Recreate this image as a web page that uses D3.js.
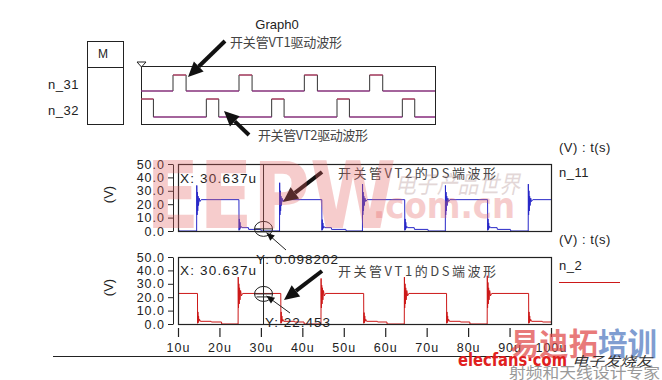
<!DOCTYPE html>
<html>
<head>
<meta charset="utf-8">
<script src="https://cdnjs.cloudflare.com/ajax/libs/d3/7.8.5/d3.min.js"></script>
<style>
  body { margin: 0; background: #fff; }
  svg text { font-family: "Liberation Sans", Arial, sans-serif; }
</style>
</head>
<body>
<div id="chart"></div>
<script>
// ---- data (time in us, volts) ----
const timeTicks = [10, 20, 30, 40, 50, 60, 70, 80, 90, 100];
const voltTicks = [0, 10, 20, 30, 40, 50];

// gate drive (digital) : [time, level]
const vt1Gate = [[10,0],[19.8,1],[23.8,0],[40,1],[44,0],[60,1],[64,0],[80,1],[84,0],[100,0]];
const vt2Gate = [[10,1],[13.8,0],[30,1],[33.8,0],[50,1],[53.8,0],[70,1],[73.8,0],[90,1],[93.8,0],[100,0]];

// n_11 : VT2 drain-source voltage
const n11 = [
  [10,0],[10.05,2.5],[10.2,0],
  [14.5,0],[14.53,34],[14.6,12],[14.68,29],[14.76,15],[14.85,26],[14.95,19],[15.1,24.5],[15.3,22],[15.6,23.4],
  [24.7,23.4],[24.73,0.5],[24.8,9],[24.88,1],[24.96,6.5],[25.05,2],[25.2,3.5],[25.4,2.5],[27.0,2.5],[27.05,1.2],[30.0,1.2],[30.1,0],
  [34.5,0],[34.53,36],[34.6,12],[34.68,30],[34.76,15],[34.85,26],[34.95,19],[35.1,24.5],[35.3,22],[35.6,23.4],
  [44.7,23.4],[44.73,0.5],[44.8,8.5],[44.88,1],[44.96,6],[45.05,2],[45.2,3.5],[45.4,2.5],[47.0,2.5],[47.05,1.2],[50.5,1.2],[50.6,0],
  [54.5,0],[54.53,35],[54.6,12],[54.68,29],[54.76,15],[54.85,26],[54.95,19],[55.1,24.5],[55.3,22],[55.6,23.4],
  [64.7,23.4],[64.73,0.5],[64.8,9],[64.88,1],[64.96,6.5],[65.05,2],[65.2,3.5],[65.4,2.5],[67.0,2.5],[67.05,1.2],[70.3,1.2],[70.4,0],
  [74.5,0],[74.53,34],[74.6,12],[74.68,29],[74.76,15],[74.85,26],[74.95,19],[75.1,24.5],[75.3,22],[75.6,23.4],
  [84.7,23.4],[84.73,0.5],[84.8,9],[84.88,1],[84.96,6],[85.05,2],[85.2,3.5],[85.4,2.5],[87.0,2.5],[87.05,1.2],[90.2,1.2],[90.3,0],
  [94.5,0],[94.53,35],[94.6,12],[94.68,30],[94.76,15],[94.85,26],[94.95,19],[95.1,24.5],[95.3,22],[95.6,23.4],
  [100,23.4]
];

// n_2 : VT1 drain-source voltage
const n2 = [
  [10,22.8],[14.7,22.8],[14.73,0.5],[14.8,9],[14.88,1],[14.96,6],[15.05,2],[15.2,3.5],[15.4,2],[18.0,2],[18.05,1.5],[20.5,1.5],[20.55,0],
  [24.5,0],[24.53,35],[24.6,12],[24.68,30],[24.76,15],[24.85,27],[24.95,18],[25.1,25],[25.3,21],[25.6,22.8],
  [34.8,22.8],[34.83,0.5],[34.9,9],[34.98,1],[35.06,6],[35.15,2],[35.3,3.5],[35.5,2],[38.1,2],[38.15,1.5],[40.4,1.5],[40.45,0],
  [44.5,0],[44.53,34],[44.6,12],[44.68,29],[44.76,15],[44.85,27],[44.95,18],[45.1,25],[45.3,21],[45.6,22.8],
  [54.8,22.8],[54.83,0.5],[54.9,8.5],[54.98,1],[55.06,6],[55.15,2],[55.3,3.5],[55.5,2],[58.1,2],[58.15,1.5],[60.4,1.5],[60.45,0],
  [64.6,0],[64.63,35],[64.7,12],[64.78,30],[64.86,15],[64.95,27],[65.05,18],[65.2,25],[65.4,21],[65.7,22.8],
  [74.8,22.8],[74.83,0.5],[74.9,9],[74.98,1],[75.06,6],[75.15,2],[75.3,3.5],[75.5,2],[78.1,2],[78.15,1.5],[80.4,1.5],[80.45,0],
  [84.6,0],[84.63,36],[84.7,12],[84.78,31],[84.86,15],[84.95,27],[85.05,18],[85.2,25],[85.4,21],[85.7,22.8],
  [94.6,22.8],[94.63,0.5],[94.7,9],[94.78,1],[94.86,6],[94.95,2],[95.1,3.5],[95.3,2],[97.9,2],[97.95,1.5],[100,1.5]
];

// cursor
const cursorT = 30.637;
const cursorN11 = 0.098202;
const cursorN2 = 22.453;

// ---- svg ----
const W = 662, H = 380;
const svg = d3.select("#chart").append("svg")
  .attr("width", W).attr("height", H);

// scales
const xA = d3.scaleLinear().domain([10, 100]).range([178, 551]);
const xD = d3.scaleLinear().domain([10, 100]).range([141, 435]);
const yMid = d3.scaleLinear().domain([0, 50]).range([231, 164]);
const yBot = d3.scaleLinear().domain([0, 50]).range([324, 257]);
const y31 = d3.scaleLinear().domain([0, 1]).range([91, 75]);
const y32 = d3.scaleLinear().domain([0, 1]).range([117, 99]);

// ---- top: digital graph ----
svg.append("text").attr("x", 277).attr("y", 29)
  .attr("text-anchor", "middle").style("font-size", "13px").attr("fill", "#222")
  .text("Graph0");

// M box
svg.append("rect").attr("x", 87.5).attr("y", 41.5).attr("width", 36).attr("height", 83)
  .attr("fill", "none").attr("stroke", "#222");
svg.append("line").attr("x1", 87.5).attr("x2", 123.5).attr("y1", 67.5).attr("y2", 67.5)
  .attr("stroke", "#222");
svg.append("text").attr("x", 103).attr("y", 58).attr("text-anchor", "middle")
  .style("font-size", "12px").attr("fill", "#222").text("M");

svg.append("text").attr("x", 48).attr("y", 89).style("font-size", "13px")
  .style("letter-spacing", "0.5px").attr("fill", "#222").text("n_31");
svg.append("text").attr("x", 48).attr("y", 115).style("font-size", "13px")
  .style("letter-spacing", "0.5px").attr("fill", "#222").text("n_32");

// frame
svg.append("rect").attr("x", 141.5).attr("y", 66.5).attr("width", 294).attr("height", 58)
  .attr("fill", "none").attr("stroke", "#222");
svg.append("line").attr("x1", 141.5).attr("x2", 141.5).attr("y1", 63).attr("y2", 125)
  .attr("stroke", "#222");
svg.append("path").attr("d", "M137,62 L146,62 L141.5,67 Z")
  .attr("fill", "#fff").attr("stroke", "#222");

function drawDigital(data, y) {
  const line = d3.line().x(d => xD(d[0])).y(d => y(d[1])).curve(d3.curveStepAfter);
  svg.append("path").datum(data).attr("d", line)
    .attr("fill", "none").attr("stroke", "#333").attr("stroke-width", 1);
  // horizontal levels in magenta
  for (let i = 0; i < data.length - 1; i++) {
    svg.append("line")
      .attr("x1", xD(data[i][0])).attr("x2", xD(data[i + 1][0]))
      .attr("y1", y(data[i][1])).attr("y2", y(data[i][1]))
      .attr("stroke", data[i][1] ? "#d04070" : "#b030a0").attr("stroke-width", 1.1);
  }
}
drawDigital(vt1Gate, y31);
drawDigital(vt2Gate, y32);

// ---- analog panels ----
function panel(y, data, color, name) {
  // y axis
  const ax = svg.append("g").attr("transform", "translate(173,0)")
    .call(d3.axisLeft(y).tickValues(voltTicks).tickFormat(d3.format(".1f"))
      .tickSize(5).tickSizeOuter(0).tickPadding(3));
  ax.selectAll("path,line").attr("stroke", "#222");
  ax.selectAll("text").style("font-size", "12.5px").style("letter-spacing", "1px")
    .style("font-family", "Liberation Sans, Arial, sans-serif").attr("fill", "#222");

  const r0 = y.range();
  const clipId = "clip-" + name;
  svg.append("clipPath").attr("id", clipId).append("rect")
    .attr("x", 178).attr("y", r0[1]).attr("width", 373).attr("height", r0[0] - r0[1]);

  const line = d3.line().x(d => xA(d[0])).y(d => y(d[1]));
  svg.append("path").datum(data).attr("d", line)
    .attr("clip-path", `url(#${clipId})`)
    .attr("fill", "none").attr("stroke", color).attr("stroke-width", 1);

  svg.append("rect").attr("x", 178.5).attr("y", r0[1] + 0.5)
    .attr("width", 373).attr("height", r0[0] - r0[1])
    .attr("fill", "none").attr("stroke", "#222").attr("stroke-width", 1.2);

  // (V) label
  const cy = (r0[0] + r0[1]) / 2 - 3;
  svg.append("text").attr("transform", `translate(113,${cy}) rotate(-90)`)
    .attr("text-anchor", "middle").style("font-size", "13px").attr("fill", "#222")
    .text("(V)");
}
panel(yMid, n11, "#2828c8", "n11");
panel(yBot, n2, "#cc1818", "n2");

// x axis under the bottom panel
const xAxis = svg.append("g").attr("transform", "translate(0,328)")
  .call(d3.axisBottom(xA).tickValues(timeTicks).tickFormat(d => d + "u")
    .tickSize(9).tickPadding(6));
xAxis.select(".domain").remove();
xAxis.selectAll("line").attr("stroke", "#222").attr("stroke-width", 1.2);
xAxis.selectAll("text").style("font-size", "12.5px").style("letter-spacing", "1px")
  .style("font-family", "Liberation Sans, Arial, sans-serif").attr("fill", "#222");

svg.append("line").attr("x1", 53).attr("x2", 512).attr("y1", 356.5).attr("y2", 356.5)
  .attr("stroke", "#222");

// legend side
[["(V) : t(s)", 152], ["n_11", 177], ["(V) : t(s)", 244], ["n_2", 270]].forEach(d => {
  svg.append("text").attr("x", 559).attr("y", d[1]).style("font-size", "13px")
    .style("letter-spacing", "0.5px").attr("fill", "#222").text(d[0]);
});
svg.append("line").attr("x1", 559).attr("x2", 620).attr("y1", 282.5).attr("y2", 282.5)
  .attr("stroke", "#cc1818").attr("stroke-width", 1.2);

// ---- cursor ----
const cx = xA(cursorT);
[yMid, yBot].forEach(y => {
  svg.append("line").attr("x1", cx).attr("x2", cx)
    .attr("y1", y.range()[1]).attr("y2", y.range()[0])
    .attr("stroke", "#222").attr("stroke-width", 1);
});
[[yMid, 183], [yBot, 275]].forEach(d => {
  svg.append("text").attr("x", 180).attr("y", d[1]).style("font-size", "13.5px")
    .style("letter-spacing", "1.2px").attr("fill", "#222").text("X: 30.637u");
});

function marker(x, y) {
  svg.append("ellipse").attr("cx", x).attr("cy", y).attr("rx", 9).attr("ry", 7.5)
    .attr("fill", "none").attr("stroke", "#222");
  svg.append("line").attr("x1", x - 9).attr("x2", x + 9).attr("y1", y).attr("y2", y).attr("stroke", "#222");
  svg.append("line").attr("x1", x - 7).attr("x2", x + 7).attr("y1", y + 3).attr("y2", y + 3).attr("stroke", "#222");
}
marker(cx, yMid(cursorN11) - 2);
marker(cx, yBot(cursorN2));

function thinArrow(x1, y1, x2, y2) {
  svg.append("line").attr("x1", x1).attr("y1", y1).attr("x2", x2).attr("y2", y2)
    .attr("stroke", "#222");
  const a = Math.atan2(y2 - y1, x2 - x1), L = 8, w = 3.5;
  const bx = x2 - L * Math.cos(a), by = y2 - L * Math.sin(a);
  svg.append("path").attr("d",
    `M${x2},${y2} L${bx - w * Math.sin(a)},${by + w * Math.cos(a)} L${bx + w * Math.sin(a)},${by - w * Math.cos(a)} Z`)
    .attr("fill", "#111");
}
thinArrow(286, 250, cx + 3, yMid(cursorN11) + 2);
thinArrow(290, 313, cx + 3, yBot(cursorN2) + 2);

svg.append("text").attr("x", 256).attr("y", 264).style("font-size", "13.5px")
  .style("letter-spacing", "1px").attr("fill", "#222").text("Y: 0.098202");
svg.append("text").attr("x", 265).attr("y", 327).style("font-size", "13.5px")
  .style("letter-spacing", "1px").attr("fill", "#222").text("Y: 22.453");

// ---- annotations ----
function bigArrow(x1, y1, x2, y2) {
  const a = Math.atan2(y2 - y1, x2 - x1), L = 15, w = 7;
  const bx = x2 - L * Math.cos(a), by = y2 - L * Math.sin(a);
  svg.append("line").attr("x1", x1).attr("y1", y1).attr("x2", bx).attr("y2", by)
    .attr("stroke", "#111").attr("stroke-width", 4);
  svg.append("path").attr("d",
    `M${x2},${y2} L${bx - w * Math.sin(a)},${by + w * Math.cos(a)} L${bx + w * Math.sin(a)},${by - w * Math.cos(a)} Z`)
    .attr("fill", "#111");
}
bigArrow(225, 41, 188, 77);
bigArrow(249, 135, 224, 111);
bigArrow(322, 172, 283, 202);
bigArrow(322, 271, 284, 300);

function cjk(x, y, t, len) {
  svg.append("text").attr("x", x).attr("y", y)
    .attr("textLength", len).attr("lengthAdjust", "spacing")
    .style("font-family", "Noto Sans CJK SC, sans-serif").style("font-size", "13px")
    .attr("fill", "#444").text(t);
}
cjk(230, 47, "开关管VT1驱动波形", 112);
cjk(258, 140, "开关管VT2驱动波形", 110);
cjk(338, 178, "开关管VT2的DS端波形", 158);
cjk(338, 276, "开关管VT1的DS端波形", 158);

// ---- watermarks ----
const wm = svg.append("g").style("pointer-events", "none");
wm.append("text").attr("x", 146).attr("y", 228)
  .attr("textLength", 250).attr("lengthAdjust", "spacingAndGlyphs")
  .style("font-family", "DejaVu Sans, sans-serif").style("font-weight", "bold")
  .style("font-size", "92px").attr("fill", "#e46464").attr("opacity", 0.32).text("EEPW");
wm.append("text").attr("x", 373).attr("y", 218)
  .attr("textLength", 142).attr("lengthAdjust", "spacingAndGlyphs")
  .style("font-family", "DejaVu Sans, sans-serif").style("font-weight", "bold")
  .style("font-size", "35px").attr("fill", "#e46464").attr("opacity", 0.32).text(".com.cn");
wm.append("text").attr("x", 395).attr("y", 193)
  .attr("textLength", 125).attr("lengthAdjust", "spacingAndGlyphs")
  .style("font-family", "Noto Sans CJK SC, sans-serif").style("font-style", "italic")
  .style("font-size", "24px").attr("fill", "#b09090").attr("opacity", 0.35).text("电子产品世界");

wm.append("text").attr("x", 510).attr("y", 355)
  .attr("textLength", 88).attr("lengthAdjust", "spacingAndGlyphs")
  .style("font-family", "Noto Sans CJK SC, sans-serif").style("font-weight", "bold")
  .style("font-size", "31px").attr("fill", "#e04848").attr("opacity", 0.72).text("易迪拓");
wm.append("text").attr("x", 598).attr("y", 355)
  .attr("textLength", 59).attr("lengthAdjust", "spacingAndGlyphs")
  .style("font-family", "Noto Sans CJK SC, sans-serif").style("font-weight", "bold")
  .style("font-size", "31px").attr("fill", "#5078c0").attr("opacity", 0.72).text("培训");
wm.append("text").attr("x", 458).attr("y", 366)
  .attr("textLength", 109).attr("lengthAdjust", "spacingAndGlyphs")
  .style("font-family", "DejaVu Sans, sans-serif").style("font-weight", "bold")
  .style("font-size", "17px").attr("fill", "#e02020").text("elecfans·com");
wm.append("text").attr("x", 572).attr("y", 366)
  .attr("textLength", 80).attr("lengthAdjust", "spacingAndGlyphs")
  .style("font-family", "Noto Sans CJK SC, sans-serif").style("font-style", "italic")
  .style("font-size", "13px").attr("fill", "#333").text("电子发烧友");
wm.append("text").attr("x", 509).attr("y", 378)
  .attr("textLength", 151).attr("lengthAdjust", "spacingAndGlyphs")
  .style("font-family", "Noto Sans CJK SC, sans-serif")
  .style("font-size", "15px").attr("fill", "#999").text("射频和天线设计专家");
</script>
</body>
</html>
